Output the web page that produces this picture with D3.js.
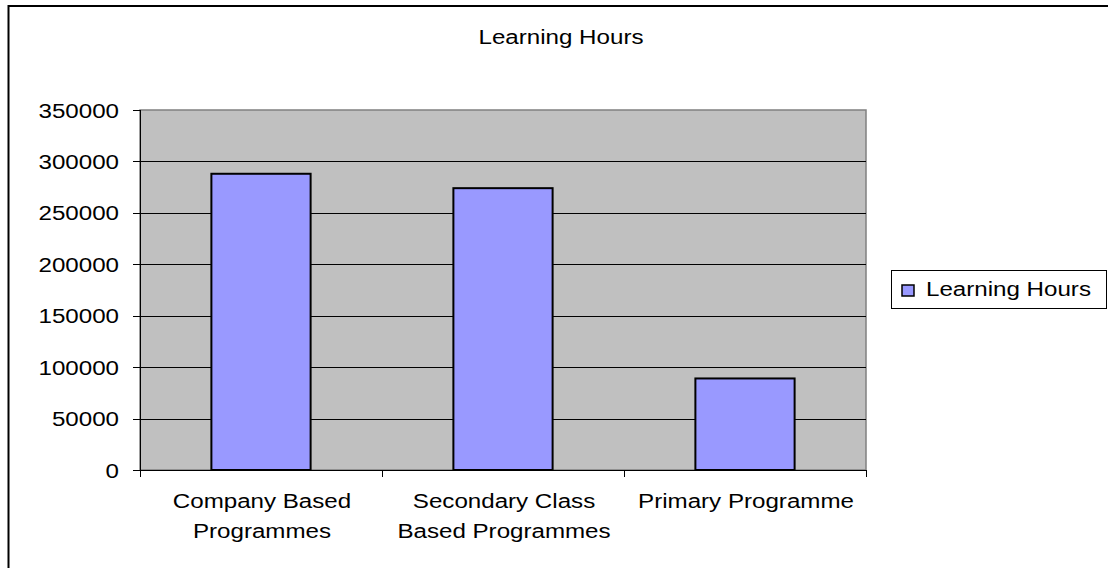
<!DOCTYPE html>
<html>
<head>
<meta charset="utf-8">
<script src="https://cdn.jsdelivr.net/npm/d3@7"></script>
<style>
  body { margin: 0; background: #fff; }
  text { font-family: "Liberation Sans", Arial, sans-serif; fill: #000; }
</style>
</head>
<body>
<script>
// chart data
var chartTitle = 'Learning Hours';
var seriesName = 'Learning Hours';
var categories = ['Company Based Programmes', 'Secondary Class Based Programmes', 'Primary Programme'];
var values = [288000, 274000, 89000];
var yTicks = [0, 50000, 100000, 150000, 200000, 250000, 300000, 350000];

var width = 1108,
    height = 568,
    fontSize = 21,
    sx = 1.15; // the original text is a bit wider than Arial

var plot = { left: 140, right: 866, top: 110, bottom: 470 };

var svg = d3.select('body').append('svg')
    .attr('width', width)
    .attr('height', height);

// outer chart border (runs off the right and bottom edges)
svg.append('rect')
    .attr('x', 8.5).attr('y', 6)
    .attr('width', width + 10).attr('height', height + 10)
    .attr('fill', '#fff')
    .attr('stroke', '#000')
    .attr('stroke-width', 2);

var x = d3.scaleBand()
    .domain(categories)
    .range([plot.left, plot.right]);

var y = d3.scaleLinear()
    .domain([0, 350000])
    .range([plot.bottom, plot.top]);

// stretched text helper: (x, y) is the anchor point
function addText(parent, tx, ty, str, anchor) {
    return parent.append('text')
        .attr('transform', 'translate(' + tx + ',' + ty + ') scale(' + sx + ',1)')
        .attr('text-anchor', anchor || 'middle')
        .style('font-size', fontSize + 'px')
        .text(str);
}

// plot background
svg.append('rect')
    .attr('x', plot.left).attr('y', plot.top)
    .attr('width', plot.right - plot.left)
    .attr('height', plot.bottom - plot.top)
    .attr('fill', '#c0c0c0')
    .attr('stroke', '#808080')
    .attr('stroke-width', 1.5);

// gridlines
svg.append('g')
    .selectAll('line')
    .data(yTicks.filter(function (d) { return d > 0 && d < 350000; }))
    .enter().append('line')
    .attr('x1', plot.left).attr('x2', plot.right)
    .attr('y1', function (d) { return Math.round(y(d)) + 0.5; })
    .attr('y2', function (d) { return Math.round(y(d)) + 0.5; })
    .attr('stroke', '#000')
    .attr('stroke-width', 1);

// bars
var barW = x.bandwidth() * 0.41;
svg.append('g')
    .selectAll('rect')
    .data(values)
    .enter().append('rect')
    .attr('x', function (d, i) { return x(categories[i]) + (x.bandwidth() - barW) / 2; })
    .attr('y', function (d) { return y(d); })
    .attr('width', barW)
    .attr('height', function (d) { return y(0) - y(d); })
    .attr('fill', '#9999ff')
    .attr('stroke', '#000')
    .attr('stroke-width', 2);

// y axis
var yAxis = svg.append('g');
yAxis.append('line')
    .attr('x1', plot.left + 0.5).attr('x2', plot.left + 0.5)
    .attr('y1', plot.top).attr('y2', plot.bottom)
    .attr('stroke', '#000');
yAxis.selectAll('line.tick')
    .data(yTicks)
    .enter().append('line')
    .attr('class', 'tick')
    .attr('x1', plot.left - 7).attr('x2', plot.left)
    .attr('y1', function (d) { return Math.round(y(d)) + 0.5; })
    .attr('y2', function (d) { return Math.round(y(d)) + 0.5; })
    .attr('stroke', '#000');
yTicks.forEach(function (d) {
    addText(yAxis, 119, y(d) + 7.5, d3.format('d')(d), 'end');
});

// x axis
var xAxis = svg.append('g');
xAxis.append('line')
    .attr('x1', plot.left).attr('x2', plot.right)
    .attr('y1', plot.bottom + 0.5).attr('y2', plot.bottom + 0.5)
    .attr('stroke', '#000');
var xTicks = categories.map(function (c) { return x(c); }).concat([plot.right]);
xAxis.selectAll('line.tick')
    .data(xTicks)
    .enter().append('line')
    .attr('class', 'tick')
    .attr('x1', function (d) { return Math.round(d) + 0.5; })
    .attr('x2', function (d) { return Math.round(d) + 0.5; })
    .attr('y1', plot.bottom).attr('y2', plot.bottom + 7)
    .attr('stroke', '#000');

// wrap the category labels to the band width
var measure = svg.append('text').style('font-size', fontSize + 'px');
function textWidth(s) {
    measure.text(s);
    return measure.node().getComputedTextLength() * sx;
}
function wrap(label, maxW) {
    var words = label.split(' '), lines = [], line = '';
    words.forEach(function (w) {
        var test = line ? line + ' ' + w : w;
        if (line && textWidth(test) > maxW) {
            lines.push(line);
            line = w;
        } else {
            line = test;
        }
    });
    lines.push(line);
    return lines;
}
categories.forEach(function (c) {
    var lines = wrap(c, x.bandwidth() - 6);
    lines.forEach(function (l, j) {
        addText(xAxis, x(c) + x.bandwidth() / 2 + 1, 508 + j * 30, l, 'middle');
    });
});
measure.remove();

// title
addText(svg, 561, 44, chartTitle, 'middle');

// legend
var legend = svg.append('g');
legend.append('rect')
    .attr('x', 891.5).attr('y', 270.5)
    .attr('width', 215).attr('height', 38)
    .attr('fill', '#fff')
    .attr('stroke', '#000')
    .attr('stroke-width', 1);
legend.append('rect')
    .attr('x', 902).attr('y', 285)
    .attr('width', 12).attr('height', 11)
    .attr('fill', '#9999ff')
    .attr('stroke', '#000')
    .attr('stroke-width', 1.5);
addText(legend, 926, 295.5, seriesName, 'start');
</script>
</body>
</html>
